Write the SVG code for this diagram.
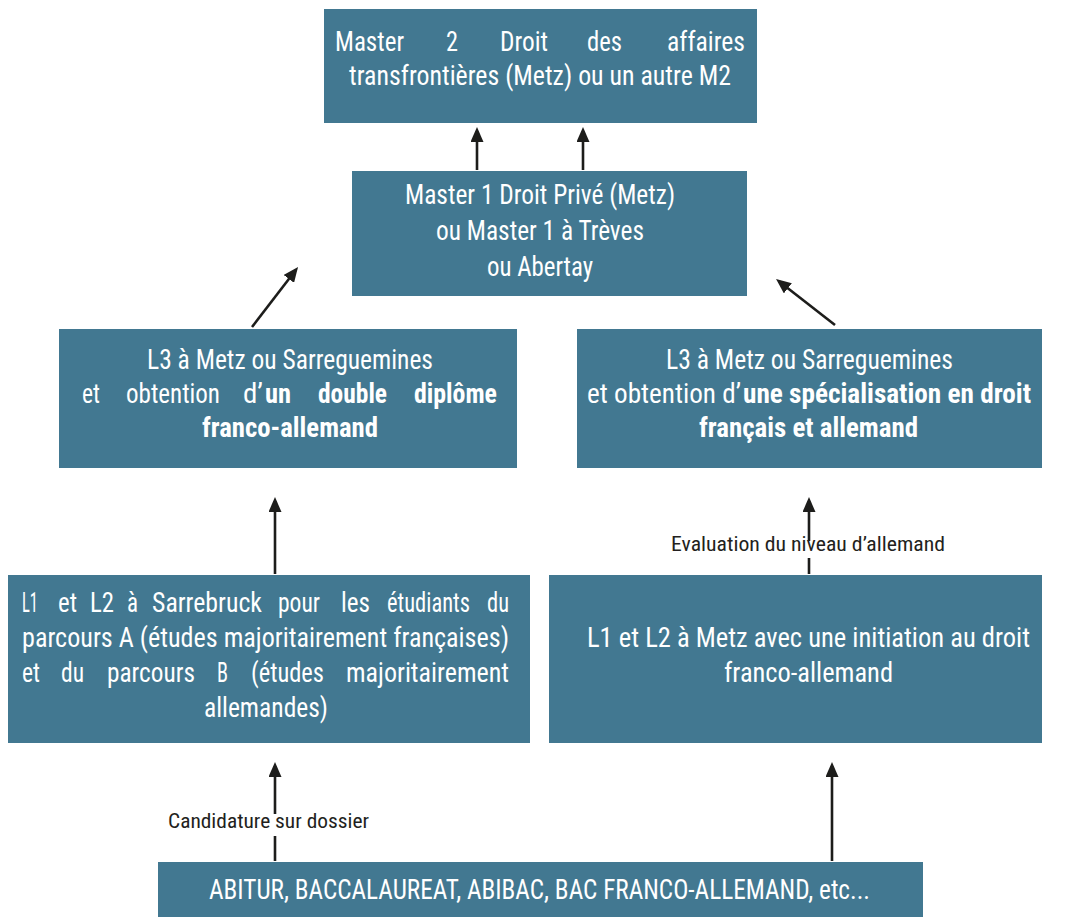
<svg xmlns="http://www.w3.org/2000/svg" width="1067" height="917" viewBox="0 0 1067 917">
<style>
.box{fill:#427891}
.t{font-family:"Liberation Sans Narrow","Roboto Condensed","DejaVu Sans Condensed","Liberation Sans",sans-serif;font-stretch:condensed;font-size:27px;fill:#ffffff}
.b{font-weight:700}
.lbl{font-family:"Liberation Sans Narrow","Roboto Condensed","DejaVu Sans Condensed","Liberation Sans",sans-serif;font-stretch:condensed;font-size:21px;fill:#231f20}
.c{fill:none;stroke:#1d1d1b;stroke-width:2.6}
</style>
<defs>
<marker id="ah" markerUnits="userSpaceOnUse" markerWidth="16" markerHeight="13" refX="11" refY="6.5" orient="auto">
<path d="M0,0 L15,6.5 L0,13 z" fill="#1d1d1b"/>
</marker>
</defs>
<g id="connectors">
<path class="c" d="M477,170 V131" marker-end="url(#ah)"/>
<path class="c" d="M583,170 V131" marker-end="url(#ah)"/>
<path class="c" d="M252,327 L295.6,270.2" marker-end="url(#ah)"/>
<path class="c" d="M835,325 L779.2,281.5" marker-end="url(#ah)"/>
<path class="c" d="M275,574 V501" marker-end="url(#ah)"/>
<path class="c" d="M809,574 V558 M809,541 V501" marker-end="url(#ah)"/>
<path class="c" d="M275,861 V836 M275,814 V766" marker-end="url(#ah)"/>
<path class="c" d="M832,861 V766" marker-end="url(#ah)"/>
<text class="lbl" x="671" y="551" textLength="274" lengthAdjust="spacingAndGlyphs">Evaluation du niveau d’allemand</text>
<text class="lbl" x="168" y="828" textLength="201" lengthAdjust="spacingAndGlyphs">Candidature sur dossier</text>
</g>
<g id="m2">
<rect class="box" x="324" y="9" width="433" height="114"/>
<text class="t" y="51"><tspan x="335" textLength="69" lengthAdjust="spacingAndGlyphs">Master</tspan><tspan x="446" textLength="12" lengthAdjust="spacingAndGlyphs">2</tspan><tspan x="500" textLength="48" lengthAdjust="spacingAndGlyphs">Droit</tspan><tspan x="587" textLength="35" lengthAdjust="spacingAndGlyphs">des</tspan><tspan x="667" textLength="78" lengthAdjust="spacingAndGlyphs">affaires</tspan></text>
<text class="t" x="349" y="85" textLength="382" lengthAdjust="spacingAndGlyphs">transfrontières (Metz) ou un autre M2</text>
</g>
<g id="m1">
<rect class="box" x="352" y="171" width="395" height="125"/>
<text class="t" x="405" y="204" textLength="270" lengthAdjust="spacingAndGlyphs">Master 1 Droit Privé (Metz)</text>
<text class="t" x="436" y="240" textLength="208" lengthAdjust="spacingAndGlyphs">ou Master 1 à Trèves</text>
<text class="t" x="487" y="276" textLength="106" lengthAdjust="spacingAndGlyphs">ou Abertay</text>
</g>
<g id="l3a">
<rect class="box" x="59" y="329" width="458" height="139"/>
<text class="t" x="147" y="369" textLength="286" lengthAdjust="spacingAndGlyphs">L3 à Metz ou Sarreguemines</text>
<text class="t" y="403"><tspan x="82" textLength="18" lengthAdjust="spacingAndGlyphs">et</tspan><tspan x="126" textLength="94" lengthAdjust="spacingAndGlyphs">obtention</tspan><tspan x="243" textLength="20" lengthAdjust="spacingAndGlyphs">d’</tspan><tspan class="b" x="265" textLength="26" lengthAdjust="spacingAndGlyphs">un</tspan><tspan class="b" x="318" textLength="69" lengthAdjust="spacingAndGlyphs">double</tspan><tspan class="b" x="414" textLength="83" lengthAdjust="spacingAndGlyphs">diplôme</tspan></text>
<text class="t b" x="202" y="437" textLength="176" lengthAdjust="spacingAndGlyphs">franco-allemand</text>
</g>
<g id="l3b">
<rect class="box" x="577" y="329" width="465" height="139"/>
<text class="t" x="666" y="369" textLength="287" lengthAdjust="spacingAndGlyphs">L3 à Metz ou Sarreguemines</text>
<text class="t" y="403"><tspan x="587" textLength="154" lengthAdjust="spacingAndGlyphs">et obtention d’</tspan><tspan class="b" x="743" textLength="288" lengthAdjust="spacingAndGlyphs">une spécialisation en droit</tspan></text>
<text class="t b" x="699" y="437" textLength="219" lengthAdjust="spacingAndGlyphs">français et allemand</text>
</g>
<g id="l1a">
<rect class="box" x="8" y="575" width="522" height="168"/>
<text class="t" y="612"><tspan x="22" textLength="16" lengthAdjust="spacingAndGlyphs">L1</tspan><tspan x="58" textLength="19" lengthAdjust="spacingAndGlyphs">et</tspan><tspan x="90" textLength="24" lengthAdjust="spacingAndGlyphs">L2</tspan><tspan x="127" textLength="11" lengthAdjust="spacingAndGlyphs">à</tspan><tspan x="152" textLength="110" lengthAdjust="spacingAndGlyphs">Sarrebruck</tspan><tspan x="278" textLength="42" lengthAdjust="spacingAndGlyphs">pour</tspan><tspan x="341" textLength="29" lengthAdjust="spacingAndGlyphs">les</tspan><tspan x="387" textLength="83" lengthAdjust="spacingAndGlyphs">étudiants</tspan><tspan x="487" textLength="22" lengthAdjust="spacingAndGlyphs">du</tspan></text>
<text class="t" x="22" y="647" textLength="487" lengthAdjust="spacingAndGlyphs">parcours A (études majoritairement françaises)</text>
<text class="t" y="682"><tspan x="22" textLength="18" lengthAdjust="spacingAndGlyphs">et</tspan><tspan x="61" textLength="23" lengthAdjust="spacingAndGlyphs">du</tspan><tspan x="107" textLength="88" lengthAdjust="spacingAndGlyphs">parcours</tspan><tspan x="217" textLength="11" lengthAdjust="spacingAndGlyphs">B</tspan><tspan x="251" textLength="73" lengthAdjust="spacingAndGlyphs">(études</tspan><tspan x="346" textLength="163" lengthAdjust="spacingAndGlyphs">majoritairement</tspan></text>
<text class="t" x="204" y="717" textLength="124" lengthAdjust="spacingAndGlyphs">allemandes)</text>
</g>
<g id="l1b">
<rect class="box" x="549" y="575" width="493" height="168"/>
<text class="t" x="587" y="647" textLength="443" lengthAdjust="spacingAndGlyphs">L1 et L2 à Metz avec une initiation au droit</text>
<text class="t" x="724" y="682" textLength="169" lengthAdjust="spacingAndGlyphs">franco-allemand</text>
</g>
<g id="bac">
<rect class="box" x="158" y="862" width="765" height="55"/>
<text class="t" x="209" y="899" textLength="661" lengthAdjust="spacingAndGlyphs">ABITUR, BACCALAUREAT, ABIBAC, BAC FRANCO-ALLEMAND, etc...</text>
</g>
</svg>
